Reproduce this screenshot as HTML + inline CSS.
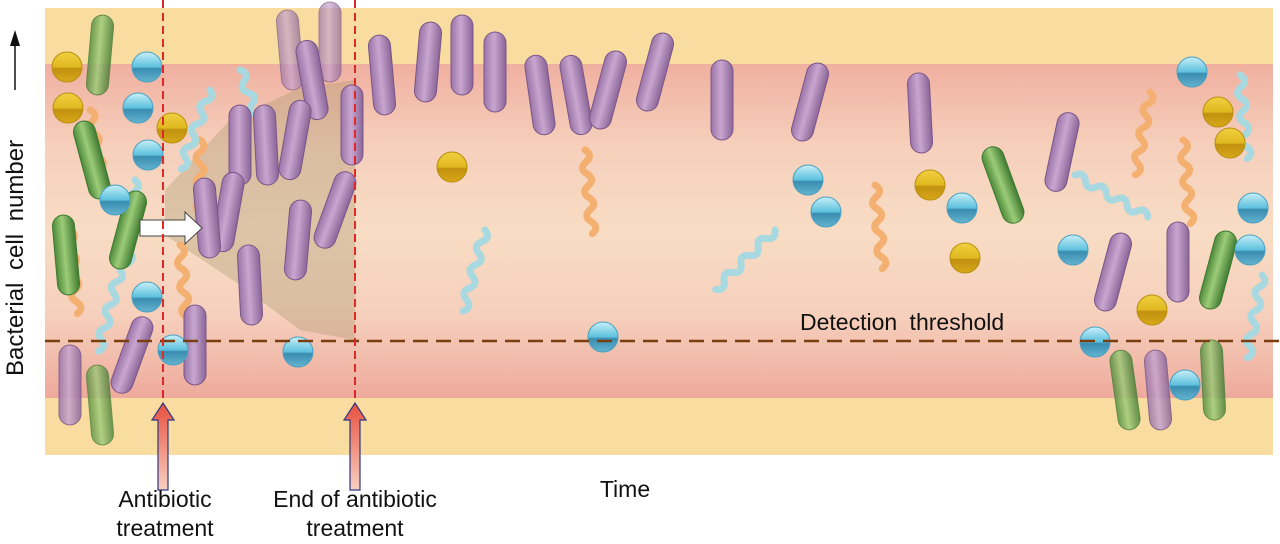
<!DOCTYPE html>
<html><head><meta charset="utf-8"><style>html,body{margin:0;padding:0;background:#fff;width:1280px;height:544px;overflow:hidden}svg{display:block}text{font-family:"Liberation Sans",Arial,sans-serif;fill:#111}</style></head><body>
<svg width="1280" height="544" viewBox="0 0 1280 544" xmlns="http://www.w3.org/2000/svg">
<defs>
<linearGradient id="pk" x1="0" y1="0" x2="0" y2="1">
<stop offset="0" stop-color="#f0b0a0"/><stop offset="0.25" stop-color="#f6d0bc"/><stop offset="0.5" stop-color="#f8dcc4"/><stop offset="0.75" stop-color="#f6d0bc"/><stop offset="1" stop-color="#eeaa9c"/></linearGradient>
<linearGradient id="pu" x1="0" y1="0" x2="1" y2="0"><stop offset="0" stop-color="#9a74a8"/><stop offset="0.45" stop-color="#c9a6cf"/><stop offset="1" stop-color="#8a6598"/></linearGradient>
<linearGradient id="gr" x1="0" y1="0" x2="1" y2="0"><stop offset="0" stop-color="#4d8a3a"/><stop offset="0.45" stop-color="#9ccc78"/><stop offset="1" stop-color="#3f7a30"/></linearGradient>
<linearGradient id="bl" x1="0" y1="0" x2="0" y2="1"><stop offset="0" stop-color="#c8f0fa"/><stop offset="0.5" stop-color="#5cc0dc"/><stop offset="0.55" stop-color="#3a8cb0"/><stop offset="1" stop-color="#64b4d0"/></linearGradient>
<linearGradient id="ye" x1="0" y1="0" x2="0" y2="1"><stop offset="0" stop-color="#f0d040"/><stop offset="0.5" stop-color="#e0b820"/><stop offset="0.55" stop-color="#c09010"/><stop offset="1" stop-color="#d8a818"/></linearGradient>
<linearGradient id="ar" x1="0" y1="0" x2="0" y2="1"><stop offset="0" stop-color="#e85040"/><stop offset="1" stop-color="#f8d0c0"/></linearGradient>
<g id="P"><rect x="-11" y="-40" width="22" height="80" rx="11" fill="url(#pu)" stroke="#7a5688" stroke-width="1"/></g>
<g id="G"><rect x="-11" y="-40" width="22" height="80" rx="11" fill="url(#gr)" stroke="#3e7a30" stroke-width="1"/></g>
<g id="B"><circle r="15" fill="url(#bl)" stroke="#4aa0c0" stroke-width="1"/></g>
<g id="Y"><circle r="15" fill="url(#ye)" stroke="#b89010" stroke-width="1"/></g>
<path id="wb" d="M0,0 q8,6 0,12 q-8,6 0,12 q8,6 0,12 q-8,6 0,12 q8,6 0,12 q-8,6 0,12 q8,6 0,12" fill="none" stroke-linecap="round"/>
</defs>
<rect x="45" y="8" width="1228" height="447" fill="#f8dca0"/>
<rect x="45" y="64" width="1228" height="334" fill="url(#pk)"/>
<polygon points="165,190 230,120 300,88 355,80 355,340 300,330 240,285 165,235" fill="#9a9060" opacity="0.3"/>
<g stroke-width="7">
<use href="#wb" transform="translate(240,70) rotate(-20)" stroke="#a8d8e0"/>
<use href="#wb" transform="translate(90,110) rotate(-10)" stroke="#f4b070"/>
<use href="#wb" transform="translate(135,180) rotate(5)" stroke="#a8d8e0"/>
<use href="#wb" transform="translate(70,230) rotate(-5)" stroke="#f4b070"/>
<use href="#wb" transform="translate(120,270) rotate(15)" stroke="#a8d8e0"/>
<use href="#wb" transform="translate(200,140) rotate(0)" stroke="#f4b070"/>
<use href="#wb" transform="translate(180,245) rotate(-5)" stroke="#f4b070"/>
<use href="#wb" transform="translate(210,90) rotate(20)" stroke="#a8d8e0"/>
<use href="#wb" transform="translate(485,230) rotate(15)" stroke="#a8d8e0"/>
<use href="#wb" transform="translate(585,150) rotate(-5)" stroke="#f4b070"/>
<use href="#wb" transform="translate(775,230) rotate(45)" stroke="#a8d8e0"/>
<use href="#wb" transform="translate(875,185) rotate(-5)" stroke="#f4b070"/>
<use href="#wb" transform="translate(1075,175) rotate(-60)" stroke="#a8d8e0"/>
<use href="#wb" transform="translate(1150,92) rotate(10)" stroke="#f4b070"/>
<use href="#wb" transform="translate(1183,140) rotate(-5)" stroke="#f4b070"/>
<use href="#wb" transform="translate(1240,75) rotate(-5)" stroke="#a8d8e0"/>
<use href="#wb" transform="translate(1262,275) rotate(10)" stroke="#a8d8e0"/>
</g>
<g>
<use href="#P" transform="translate(290,50) rotate(-5)" opacity="0.7"/>
<use href="#P" transform="translate(330,42)" opacity="0.7"/>
<use href="#P" transform="translate(312,80) rotate(-10)"/>
<use href="#P" transform="translate(295,140) rotate(10)"/>
<use href="#P" transform="translate(240,145)"/>
<use href="#P" transform="translate(266,145) rotate(-3)"/>
<use href="#P" transform="translate(352,125)"/>
<use href="#P" transform="translate(228,212) rotate(10)"/>
<use href="#P" transform="translate(207,218) rotate(-5)"/>
<use href="#P" transform="translate(298,240) rotate(5)"/>
<use href="#P" transform="translate(335,210) rotate(20)"/>
<use href="#P" transform="translate(250,285) rotate(-3)"/>
<use href="#P" transform="translate(195,345)"/>
<use href="#P" transform="translate(70,385)" opacity="0.85"/>
<use href="#P" transform="translate(132,355) rotate(20)"/>
<use href="#P" transform="translate(382,75) rotate(-5)"/>
<use href="#P" transform="translate(428,62) rotate(5)"/>
<use href="#P" transform="translate(462,55) rotate(0)"/>
<use href="#P" transform="translate(495,72) rotate(0)"/>
<use href="#P" transform="translate(540,95) rotate(-8)"/>
<use href="#P" transform="translate(576,95) rotate(-10)"/>
<use href="#P" transform="translate(608,90) rotate(15)"/>
<use href="#P" transform="translate(655,72) rotate(15)"/>
<use href="#P" transform="translate(722,100)"/>
<use href="#P" transform="translate(810,102) rotate(15)"/>
<use href="#P" transform="translate(920,113) rotate(-3)"/>
<use href="#P" transform="translate(1062,152) rotate(12)"/>
<use href="#P" transform="translate(1113,272) rotate(15)"/>
<use href="#P" transform="translate(1178,262)"/>
<use href="#P" transform="translate(1158,390) rotate(-5)" opacity="0.85"/>
</g>
<g>
<use href="#G" transform="translate(100,55) rotate(5)" opacity="0.8"/>
<use href="#G" transform="translate(92,160) rotate(-15)"/>
<use href="#G" transform="translate(128,230) rotate(15)"/>
<use href="#G" transform="translate(66,255) rotate(-5)"/>
<use href="#G" transform="translate(100,405) rotate(-5)" opacity="0.75"/>
<use href="#G" transform="translate(1003,185) rotate(-20)"/>
<use href="#G" transform="translate(1218,270) rotate(15)"/>
<use href="#G" transform="translate(1125,390) rotate(-8)" opacity="0.8"/>
<use href="#G" transform="translate(1213,380) rotate(-3)" opacity="0.8"/>
</g>
<g>
<use href="#Y" x="67" y="67"/><use href="#Y" x="68" y="108"/><use href="#Y" x="172" y="128"/><use href="#Y" x="452" y="167"/><use href="#Y" x="930" y="185"/><use href="#Y" x="965" y="258"/><use href="#Y" x="1218" y="112"/><use href="#Y" x="1230" y="143"/><use href="#Y" x="1152" y="310"/>
<use href="#B" x="147" y="67"/><use href="#B" x="138" y="108"/><use href="#B" x="148" y="155"/><use href="#B" x="115" y="200"/><use href="#B" x="147" y="297"/><use href="#B" x="173" y="350"/><use href="#B" x="298" y="352"/><use href="#B" x="603" y="337"/><use href="#B" x="808" y="180"/><use href="#B" x="826" y="212"/><use href="#B" x="962" y="208"/><use href="#B" x="1073" y="250"/><use href="#B" x="1192" y="72"/><use href="#B" x="1253" y="208"/><use href="#B" x="1250" y="250"/><use href="#B" x="1095" y="342"/><use href="#B" x="1185" y="385"/>
</g>
<path d="M140,220 L185,220 L185,212 L202,228 L185,244 L185,236 L140,236 Z" fill="#fff" stroke="#444" stroke-width="1"/>
<line x1="45" y1="341" x2="1280" y2="341" stroke="#7a3e10" stroke-width="2.5" stroke-dasharray="15,8"/>
<line x1="163" y1="0" x2="163" y2="400" stroke="#e02828" stroke-width="2" stroke-dasharray="8,5"/>
<line x1="355" y1="0" x2="355" y2="400" stroke="#e02828" stroke-width="2" stroke-dasharray="8,5"/>
<path d="M158,490 L158,420 L152,420 L163,403 L174,420 L168,420 L168,490 Z" fill="url(#ar)" stroke="#303880" stroke-width="1.2"/>
<path d="M350,490 L350,420 L344,420 L355,403 L366,420 L360,420 L360,490 Z" fill="url(#ar)" stroke="#303880" stroke-width="1.2"/>
<text x="800" y="330" font-size="23" word-spacing="6">Detection threshold</text>
<text x="625" y="497" font-size="23" text-anchor="middle">Time</text>
<text x="165" y="507" font-size="23" text-anchor="middle">Antibiotic</text>
<text x="165" y="536" font-size="23" text-anchor="middle">treatment</text>
<text x="355" y="507" font-size="23" text-anchor="middle">End of antibiotic</text>
<text x="355" y="536" font-size="23" text-anchor="middle">treatment</text>
<text transform="translate(23,376) rotate(-90)" font-size="24" word-spacing="6">Bacterial cell number</text>
<line x1="15" y1="90" x2="15" y2="44" stroke="#111" stroke-width="1.5"/>
<path d="M15,30 L10,46 L20,46 Z" fill="#111"/>
</svg>
</body></html>
